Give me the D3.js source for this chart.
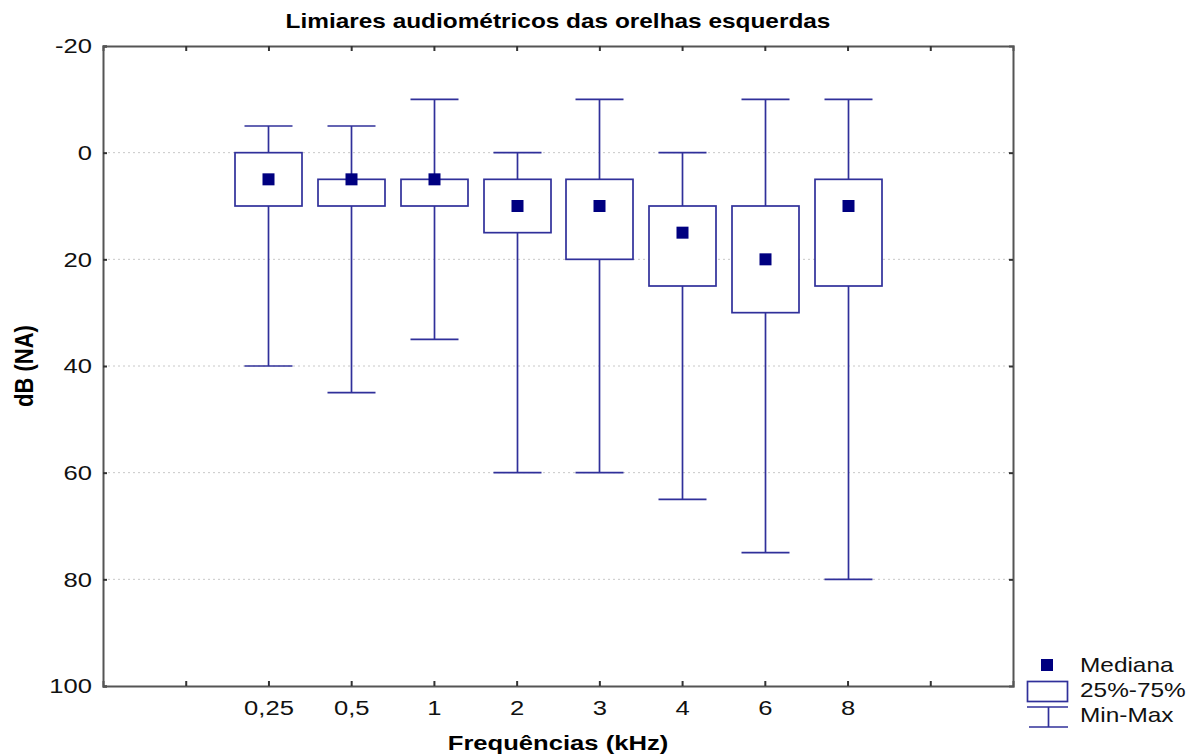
<!DOCTYPE html>
<html>
<head>
<meta charset="utf-8">
<script src="https://cdn.jsdelivr.net/npm/d3@7"></script>
<style>
  body { margin: 0; background: #fff; }
  svg text { font-family: "Liberation Sans", Arial, sans-serif; }
</style>
</head>
<body>
<div id="chart"></div>
<script>
// frequencies (kHz) and box plot statistics, dB (NA)
const categories = ['0,25', '0,5', '1', '2', '3', '4', '6', '8'];
const minValues = [-5, -5, -10, 0, -10, 0, -10, -10];
const q1Values = [0, 5, 5, 5, 5, 10, 10, 5];
const medianValues = [5, 5, 5, 10, 10, 15, 20, 10];
const q3Values = [10, 10, 10, 15, 20, 25, 30, 25];
const maxValues = [40, 45, 35, 60, 60, 65, 75, 80];
const yTicks = [-20, 0, 20, 40, 60, 80, 100];
const gridValues = [0, 20, 40, 60, 80];

const width = 1200, height = 756;
const margin = { top: 46, right: 185, bottom: 70, left: 103 };
const lineColor = '#30309a';
const medianColor = '#000080';
const axisColor = '#555';
const stretch = 'scale(1.22,1)'; // the original text is drawn a bit wide

const svg = d3.select('#chart').append('svg')
    .attr('width', width)
    .attr('height', height);

// x: slot positions, categories sit at 2..9, empty ticks at 1 and 10
const x = d3.scaleLinear()
    .domain([0, 11])
    .range([margin.left, width - margin.right - 2]);

const y = d3.scaleLinear()
    .domain([-20, 100])
    .range([margin.top, height - margin.bottom]);

const xTickPos = d3.range(1, 11);
const labelFor = p => (p >= 2 && p <= 9) ? categories[p - 2] : '';

const x0 = x.range()[0], x1 = x.range()[1];
const y0 = y.range()[0], y1 = y.range()[1];

// dotted grid
svg.append('g').selectAll('line')
    .data(gridValues)
    .join('line')
    .attr('x1', x0).attr('x2', x1)
    .attr('y1', d => y(d)).attr('y2', d => y(d))
    .attr('stroke', '#c8c8c8')
    .attr('stroke-width', 1)
    .attr('stroke-dasharray', '2,3');

// boxes
const boxW = 67, capW = 48;
const data = categories.map((c, i) => ({
    pos: i + 2, min: minValues[i], q1: q1Values[i], med: medianValues[i],
    q3: q3Values[i], max: maxValues[i]
}));

const g = svg.append('g');
data.forEach(d => {
    const cx = Math.round(x(d.pos)) + 0.5;
    // whiskers
    g.append('line')
        .attr('x1', cx).attr('x2', cx)
        .attr('y1', y(d.min)).attr('y2', y(d.max))
        .attr('stroke', lineColor).attr('stroke-width', 1.7);
    [d.min, d.max].forEach(v => {
        g.append('line')
            .attr('x1', cx - capW / 2).attr('x2', cx + capW / 2)
            .attr('y1', y(v)).attr('y2', y(v))
            .attr('stroke', lineColor).attr('stroke-width', 1.7);
    });
    g.append('rect')
        .attr('x', cx - boxW / 2)
        .attr('y', y(d.q1))
        .attr('width', boxW)
        .attr('height', y(d.q3) - y(d.q1))
        .attr('fill', '#fff')
        .attr('stroke', lineColor).attr('stroke-width', 1.7);
    g.append('rect')
        .attr('x', cx - 6).attr('y', y(d.med) - 6)
        .attr('width', 12).attr('height', 12)
        .attr('fill', medianColor);
});

// axes: left, right, bottom, top with inward ticks
const axisLeft = d3.axisLeft(y).tickValues(yTicks).tickSize(-4).tickFormat(d => String(d));
const gl = svg.append('g').attr('transform', `translate(${x0},0)`).call(axisLeft);
gl.selectAll('text')
    .attr('font-size', '21px').attr('fill', '#111')
    .attr('x', 0)
    .attr('transform', `translate(-11,0) ${stretch}`);

const axisRight = d3.axisRight(y).tickValues(gridValues).tickSize(-4).tickFormat('');
svg.append('g').attr('transform', `translate(${x1},0)`).call(axisRight);

const axisBottom = d3.axisBottom(x).tickValues(xTickPos).tickSize(-5).tickPadding(14)
    .tickFormat(labelFor);
const gb = svg.append('g').attr('transform', `translate(0,${y1})`).call(axisBottom);
gb.selectAll('text')
    .attr('font-size', '21px').attr('fill', '#111')
    .attr('transform', stretch);

const axisTop = d3.axisTop(x).tickValues(xTickPos).tickSize(-5).tickFormat('');
svg.append('g').attr('transform', `translate(0,${y0})`).call(axisTop);

svg.selectAll('.domain').attr('stroke', axisColor).attr('stroke-width', 2);
svg.selectAll('.tick line').attr('stroke', '#333').attr('stroke-width', 2);

// titles
svg.append('text')
    .attr('transform', `translate(${(x0 + x1) / 2},28) ${stretch}`)
    .attr('text-anchor', 'middle')
    .attr('font-size', '20px').attr('font-weight', 'bold')
    .text('Limiares audiométricos das orelhas esquerdas');

svg.append('text')
    .attr('transform', `translate(${(x0 + x1) / 2},750) ${stretch}`)
    .attr('text-anchor', 'middle')
    .attr('font-size', '21px').attr('font-weight', 'bold')
    .text('Frequências (kHz)');

svg.append('text')
    .attr('transform', `translate(33,${(y0 + y1) / 2}) rotate(-90) scale(1,1.2)`)
    .attr('text-anchor', 'middle')
    .attr('font-size', '22px').attr('font-weight', 'bold')
    .text('dB (NA)');

// legend
const leg = svg.append('g');
leg.append('rect')
    .attr('x', 1041).attr('y', 659).attr('width', 12).attr('height', 12)
    .attr('fill', medianColor);
leg.append('rect')
    .attr('x', 1027.5).attr('y', 681.5).attr('width', 40).attr('height', 20)
    .attr('fill', '#fff').attr('stroke', lineColor).attr('stroke-width', 1.7);
leg.append('line')
    .attr('x1', 1027).attr('x2', 1068).attr('y1', 707).attr('y2', 707)
    .attr('stroke', lineColor).attr('stroke-width', 1.7);
leg.append('line')
    .attr('x1', 1029).attr('x2', 1068).attr('y1', 727).attr('y2', 727)
    .attr('stroke', lineColor).attr('stroke-width', 1.7);
leg.append('line')
    .attr('x1', 1048.5).attr('x2', 1048.5).attr('y1', 707).attr('y2', 727)
    .attr('stroke', lineColor).attr('stroke-width', 1.7);

const legendLabels = ['Mediana', '25%-75%', 'Min-Max'];
leg.selectAll('text.lab')
    .data(legendLabels)
    .join('text')
    .attr('class', 'lab')
    .attr('transform', (d, i) => `translate(1080,${672 + i * 25}) ${stretch}`)
    .attr('font-size', '20px')
    .attr('fill', '#111')
    .text(d => d);
</script>
</body>
</html>
